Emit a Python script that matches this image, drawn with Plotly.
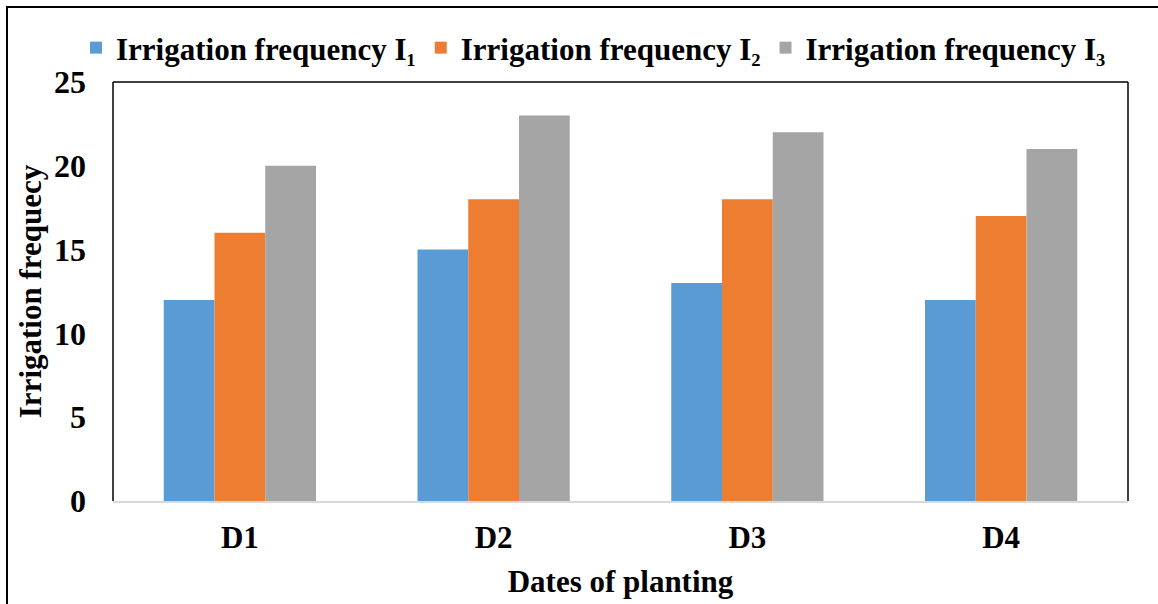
import plotly.graph_objects as go

dates = ["D1", "D2", "D3", "D4"]
freq_i1 = [12, 15, 13, 12]
freq_i2 = [16, 18, 18, 17]
freq_i3 = [20, 23, 22, 21]
series_names = ["Irrigation frequency I₁",
                "Irrigation frequency I₂",
                "Irrigation frequency I₃"]
colors = ["#5B9BD5", "#ED7D31", "#A5A5A5"]
y_ticks = [0, 5, 10, 15, 20, 25]

FONT = "Liberation Serif"

fig = go.Figure()
for name, vals, col in zip(series_names, [freq_i1, freq_i2, freq_i3], colors):
    fig.add_trace(go.Bar(x=dates, y=vals, name=name,
                         marker=dict(color=col, line=dict(width=0))))

W, H = 1158, 604
ml, mr, mt, mb = 113, 30, 82, 103
pw, ph = W - ml - mr, H - mt - mb

def px_x(p):
    return (p - ml) / pw

def px_y(p):
    return (H - mb - p) / ph

shapes = [
    # outer chart border
    dict(type="rect", xref="paper", yref="paper",
         x0=px_x(7), x1=px_x(1162), y0=px_y(608), y1=px_y(7),
         line=dict(color="black", width=2)),
    # plot frame: left, top, right
    dict(type="line", xref="paper", yref="paper", x0=0, x1=0, y0=0, y1=1,
         line=dict(color="black", width=1.5)),
    dict(type="line", xref="paper", yref="paper", x0=0, x1=1, y0=1, y1=1,
         line=dict(color="black", width=1.5)),
    dict(type="line", xref="paper", yref="paper", x0=1, x1=1, y0=0, y1=1,
         line=dict(color="black", width=1.5)),
]

fig.update_layout(
    width=W, height=H,
    margin=dict(l=ml, r=mr, t=mt, b=mb),
    paper_bgcolor="white", plot_bgcolor="white",
    barmode="group", bargap=0.4, bargroupgap=0,
    font=dict(family=FONT, color="black", size=31),
    shapes=shapes,
    legend=dict(orientation="h", x=px_x(76), xanchor="left", y=px_y(48), yanchor="middle",
                font=dict(family=FONT, size=31, color="black", weight="bold"),
                itemwidth=30, tracegroupgap=0, bgcolor="rgba(0,0,0,0)"),
    xaxis=dict(showline=True, linecolor="#D9D9D9", linewidth=2,
               tickfont=dict(family=FONT, size=31, weight="bold"),
               ticks="", ticklabelstandoff=8,
               title=dict(text="<b>Dates of planting</b>", font=dict(size=31), standoff=16)),
    yaxis=dict(range=[0, 25], tickvals=y_ticks, showgrid=False, zeroline=False,
               showline=False, ticks="", ticklabelstandoff=26,
               tickfont=dict(family=FONT, size=32, weight="bold"),
               title=dict(text="<b>Irrigation frequecy</b>", font=dict(size=31), standoff=3)),
)

fig.write_html("out.html")
